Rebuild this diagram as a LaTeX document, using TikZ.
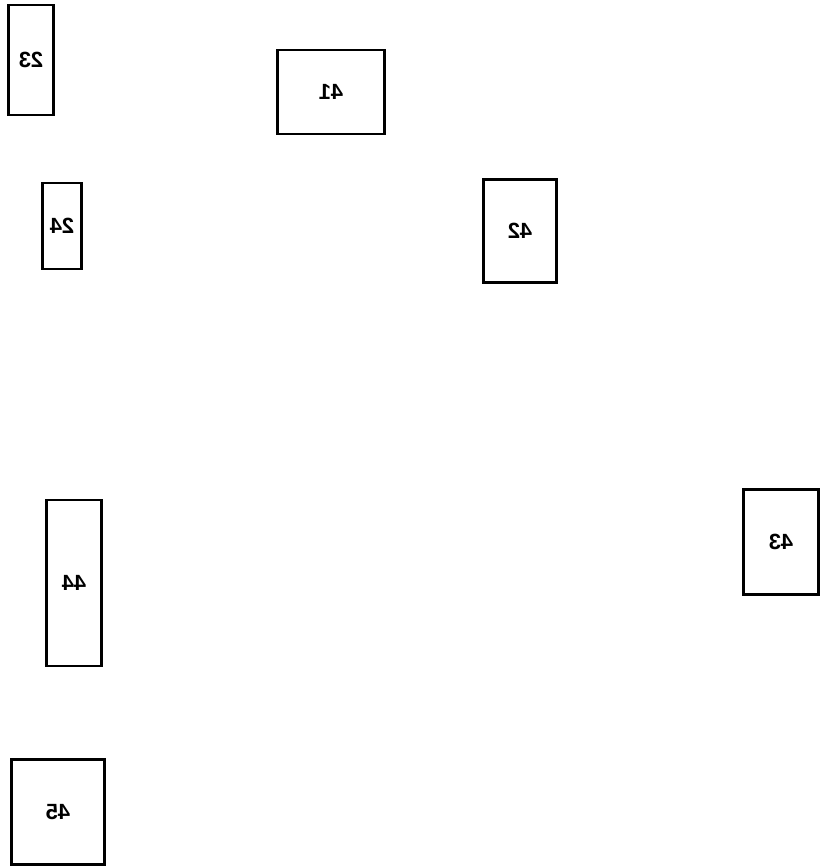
\documentclass[tikz,border=0pt]{standalone}
\usepackage{fontspec}
\setmainfont{Liberation Sans}
\begin{document}
\begin{tikzpicture}[x=1pt,y=-1pt,
  box/.style={draw, line width=2.4pt, inner sep=0pt, font=\fontsize{22}{26}\selectfont\bfseries}]
\useasboundingbox (0,0) rectangle (823,868);
% labels are mirrored left to right
\foreach \n / \x / \y / \w / \h in {23/31/60/45/110, 41/331/92/107/84, 24/62/226/39/86,
  42/520/231/73/103, 43/781/542/75/105, 44/74/583/55/166, 45/58/812/93/105}
 \node[box, minimum width=\w pt, minimum height=\h pt] (b\n) at (\x,\y) {\scalebox{-1}[1]{\n}};
\end{tikzpicture}
\end{document}
